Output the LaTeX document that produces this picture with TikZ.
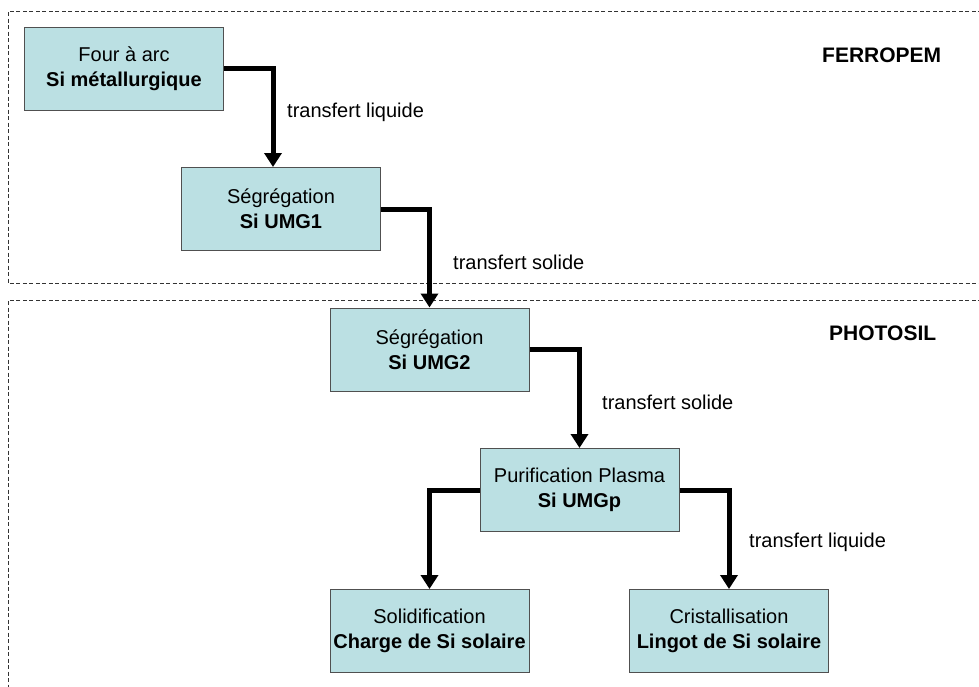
\documentclass[tikz,border=0pt]{standalone}
\usepackage{fontspec}
\setmainfont{Liberation Sans}
\usetikzlibrary{arrows.meta,calc}
\definecolor{boxfill}{HTML}{BBE0E3}
\definecolor{boxline}{HTML}{505050}
\tikzset{
  procbox/.style={draw=boxline, line width=1pt, fill=boxfill, align=center,
    minimum width=199pt, minimum height=83pt, inner sep=0pt,
    font=\fontsize{20}{25}\selectfont},
  flow/.style={line width=5pt, -{Triangle[width=17pt,length=14pt]}},
  zone/.style={line width=1pt, dash pattern=on 4pt off 2.5pt, draw=black!80},
  lbl/.style={anchor=west, inner sep=0pt, font=\fontsize{20}{24}\selectfont},
  zonelbl/.style={anchor=west, inner sep=0pt, font=\fontsize{21}{24}\selectfont\bfseries}
}
\begin{document}
\begin{tikzpicture}[x=1pt,y=-1pt]
\clip (0,0) rectangle (979,686);
\fill[white] (0,0) rectangle (979,686);
% zones
\draw[zone] (995,11) -- (8,11) -- (8,283) -- (995,283);
\draw[zone] (995,300) -- (8,300) -- (8,700);
\node[zonelbl] (ferropem) at (822,55) {FERROPEM};
\node[zonelbl] (photosil) at (829,333) {PHOTOSIL};
% boxes
\node[procbox] (b1) at (124,68.5) {Four à arc\\\textbf{Si métallurgique}};
\node[procbox] (b2) at (281,209) {Ségrégation\\\textbf{Si UMG1}};
\node[procbox] (b3) at (429.5,349.5) {Ségrégation\\\textbf{Si UMG2}};
\node[procbox] (b4) at (579.5,490) {Purification Plasma\\\textbf{Si UMGp}};
\node[procbox] (b5) at (429.5,631) {Solidification\\\textbf{Charge de Si solaire}};
\node[procbox] (b6) at (729,631) {Cristallisation\\\textbf{Lingot de Si solaire}};
% connectors
\draw[flow] (b1.east) -| ($(b2.north)+(-8,0)$);
\draw[flow] (b2.east) -| (b3.north);
\draw[flow] (b3.east) -| (b4.north);
\draw[flow] (b4.west) -| (b5.north);
\draw[flow] (b4.east) -| (b6.north);
% labels
\node[lbl] (l1) at (287,112) {transfert liquide};
\node[lbl] (l2) at (453,262) {transfert solide};
\node[lbl] (l3) at (602,402) {transfert solide};
\node[lbl] (l4) at (749,542) {transfert liquide};
\end{tikzpicture}
\end{document}
